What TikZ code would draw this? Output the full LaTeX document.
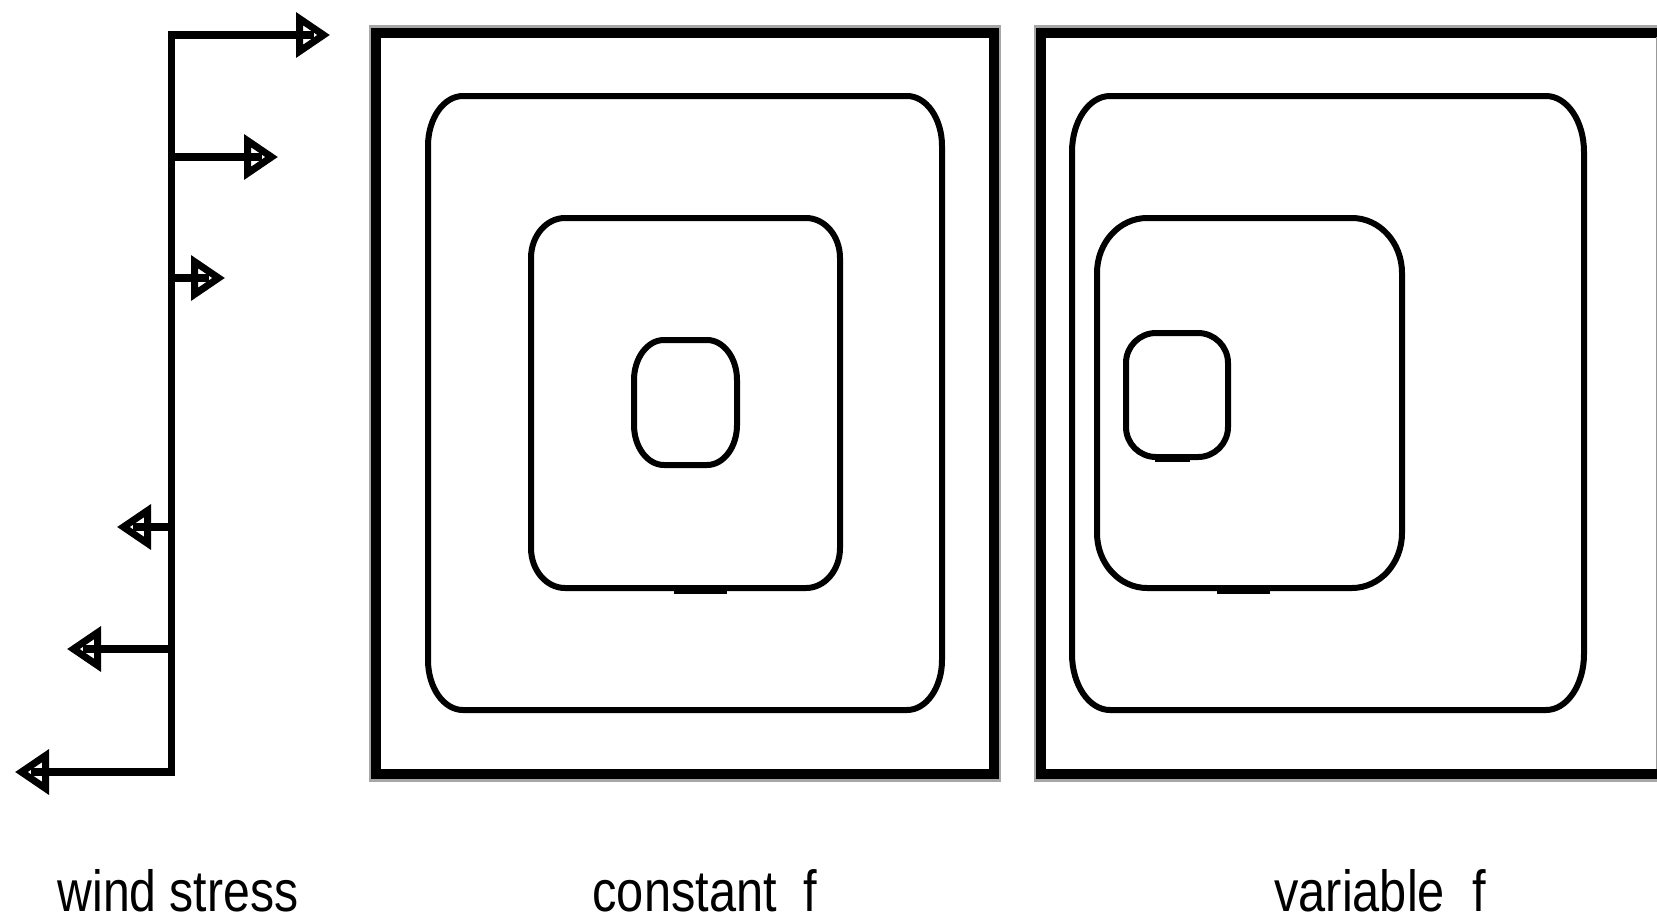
\documentclass[tikz,border=0pt]{standalone}
\usepackage{graphicx}
\usepackage{fontspec}
\setmainfont{Liberation Sans}
\usetikzlibrary{arrows.meta}
\newcommand\myrr[7][]{%
 \draw[contour,#1] ({#2+#6},#3) -- ({#4-#6},#3)
  .. controls ({#4-0.448*#6},#3) and (#4,{#3+0.448*#7}) .. (#4,{#3+#7})
  -- (#4,{#5-#7})
  .. controls (#4,{#5-0.448*#7}) and ({#4-0.448*#6},#5) .. ({#4-#6},#5)
  -- ({#2+#6},#5)
  .. controls ({#2+0.448*#6},#5) and (#2,{#5-0.448*#7}) .. (#2,{#5-#7})
  -- (#2,{#3+#7})
  .. controls (#2,{#3+0.448*#7}) and ({#2+0.448*#6},#3) .. ({#2+#6},#3) -- cycle;}
\tikzset{
  frame/.style={line width=10pt, black},
  halo/.style={line width=9pt, black!35},
  contour/.style={line width=6pt, line join=round},
  tiphead/.tip={Triangle[open,length=34pt,width=44pt,line width=7pt]},
  wind/.style={line width=7.5pt, line join=miter, -tiphead},
  shaft/.style={line width=7.5pt, shorten >=16pt},
  lbl/.style={anchor=base, inner sep=0pt, text depth=0pt, font=\fontsize{58pt}{60pt}\selectfont},
  blob/.style={line width=8.5pt}
}
\begin{document}
\begin{tikzpicture}[x=1pt,y=-1pt]
\useasboundingbox (0,0) rectangle (1657,921);
\clip (0,0) rectangle (1657,921);
% frames
\draw[halo] (373,29.5) rectangle (996.5,777);
\draw[frame] (376,32.5) rectangle (993.5,774);
\draw[halo] (1038,29.5) rectangle (1730,777);
\draw[frame] (1041,32.5) rectangle (1730,774);
\draw[line width=1.2pt, black!40] (1656.4,37) -- (1656.4,769);
% constant f contours
\myrr{428}{96}{942}{710}{35}{50}
\myrr{531}{218}{840}{588}{34}{40}
\myrr{634}{340}{737}{465}{30}{40}
\draw[blob] (674,590) -- (727,590);
% variable f contours
\myrr{1072}{96}{1584}{710}{38}{56}
\myrr{1097}{218}{1402}{588}{50}{55}
\myrr{1126}{333}{1228}{457}{30}{30}
\draw[blob] (1217,590) -- (1270,590);
\draw[line width=7pt] (1155,458.5) -- (1190,458.5);
% wind stress profile
\coordinate (s1) at (171.5,35);
\coordinate (s2) at (171.5,157);
\coordinate (s3) at (171.5,278);
\coordinate (s4) at (171.5,527);
\coordinate (s5) at (171.5,649);
\coordinate (s6) at (171.5,772);
\coordinate (t1) at (330,35);
\coordinate (t2) at (278,157);
\coordinate (t3) at (225,278);
\coordinate (t4) at (117,527);
\coordinate (t5) at (67,649);
\coordinate (t6) at (15,772);
\draw[wind, tiphead-tiphead] (t6) -- (s6) -- (s1) -- (t1);
\foreach \i in {2,3,4,5}{\draw[wind] (s\i) -- (t\i);}
\foreach \i in {1,...,6}{\draw[shaft] (s\i) -- (t\i);}
% labels
\node[lbl] (ws) at (178,911) {\scalebox{0.83}[1]{wind stress}};
\node[lbl] (cf) at (705,911) {\scalebox{0.84}[1]{constant~~f}};
\node[lbl] (vf) at (1380,911) {\scalebox{0.84}[1]{variable~~f}};
\end{tikzpicture}
\end{document}
